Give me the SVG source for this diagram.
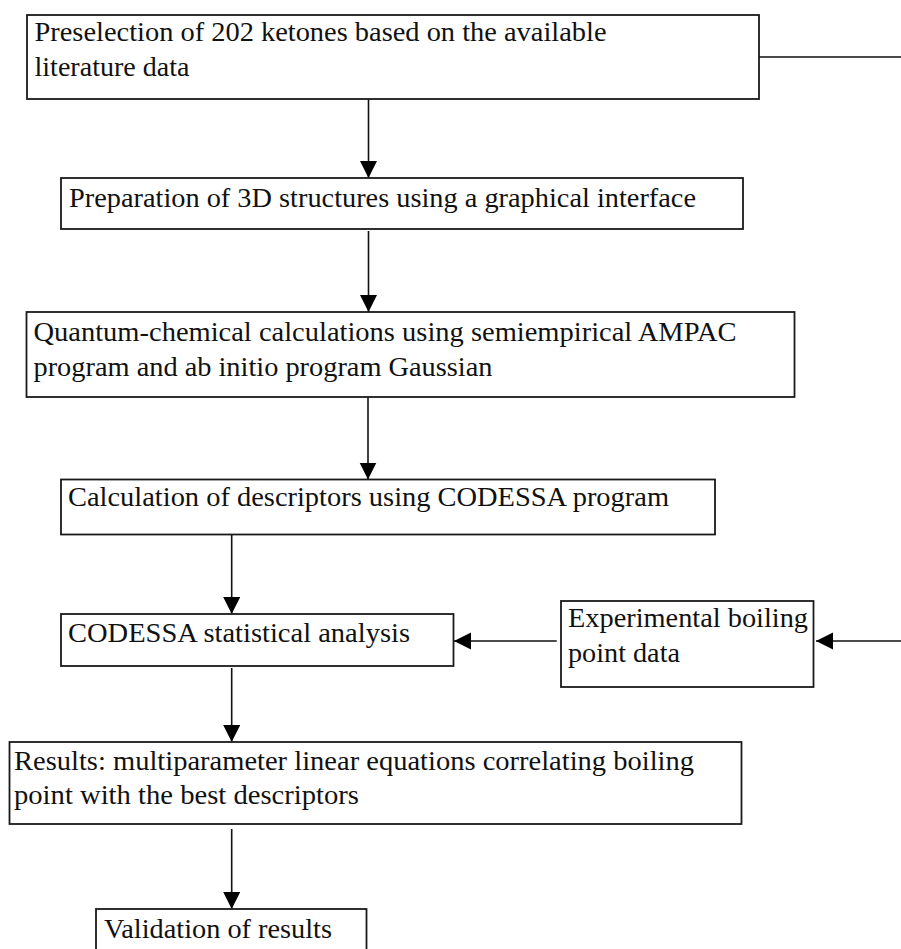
<svg xmlns="http://www.w3.org/2000/svg" width="901" height="949" viewBox="0 0 901 949">
<style>
.box{fill:#fff;stroke:#1a1a1a;stroke-width:1.8}
.t{font-family:"Liberation Serif","Times New Roman",serif;font-size:28px;fill:#111}
.c{fill:none;stroke:#111;stroke-width:1.6}
</style>
<defs>
<marker id="ah" markerUnits="userSpaceOnUse" markerWidth="18" markerHeight="18" refX="17" refY="8.5" orient="auto">
<path d="M0,0 L17,8.5 L0,17 z" fill="#000"/>
</marker>
</defs>
<rect width="901" height="949" fill="#fff"/>
<g id="connectors">
<line class="c" x1="368.5" y1="99" x2="368.5" y2="178" marker-end="url(#ah)"/>
<line class="c" x1="368.5" y1="231" x2="368.5" y2="312" marker-end="url(#ah)"/>
<line class="c" x1="368" y1="397" x2="368" y2="479.5" marker-end="url(#ah)"/>
<line class="c" x1="231.7" y1="534" x2="231.7" y2="614" marker-end="url(#ah)"/>
<line class="c" x1="231.7" y1="668" x2="231.7" y2="742" marker-end="url(#ah)"/>
<line class="c" x1="231.7" y1="829" x2="231.7" y2="909" marker-end="url(#ah)"/>
<line class="c" x1="556.7" y1="641" x2="454" y2="641" marker-end="url(#ah)"/>
<path class="c" d="M759,57 H906 V641 H816" marker-end="url(#ah)"/>
</g>
<g id="n1">
<rect class="box" x="27" y="15" width="732" height="84"/>
<text class="t" x="34.5" y="41" textLength="572" lengthAdjust="spacingAndGlyphs">Preselection of 202 ketones based on the available</text>
<text class="t" x="34.5" y="75.5" textLength="155" lengthAdjust="spacingAndGlyphs">literature data</text>
</g>
<g id="n2">
<rect class="box" x="61" y="178" width="682" height="51"/>
<text class="t" x="69" y="206.5" textLength="627" lengthAdjust="spacingAndGlyphs">Preparation of 3D structures using a graphical interface</text>
</g>
<g id="n3">
<rect class="box" x="26.5" y="312" width="768" height="85"/>
<text class="t" x="33.5" y="341" textLength="703" lengthAdjust="spacingAndGlyphs">Quantum-chemical calculations using semiempirical AMPAC</text>
<text class="t" x="33.5" y="375.5" textLength="459" lengthAdjust="spacingAndGlyphs">program and ab initio program Gaussian</text>
</g>
<g id="n4">
<rect class="box" x="61" y="479.5" width="654" height="55"/>
<text class="t" x="68" y="506" textLength="601" lengthAdjust="spacingAndGlyphs">Calculation of descriptors using CODESSA program</text>
</g>
<g id="n5">
<rect class="box" x="61" y="614" width="392.5" height="52"/>
<text class="t" x="68" y="641.5" textLength="342" lengthAdjust="spacingAndGlyphs">CODESSA statistical analysis</text>
</g>
<g id="n6">
<rect class="box" x="561" y="601" width="252.5" height="86"/>
<text class="t" x="568" y="627" textLength="240" lengthAdjust="spacingAndGlyphs">Experimental boiling</text>
<text class="t" x="568" y="662" textLength="112" lengthAdjust="spacingAndGlyphs">point data</text>
</g>
<g id="n7">
<rect class="box" x="9.5" y="742" width="732" height="82"/>
<text class="t" x="14" y="769.5" textLength="680" lengthAdjust="spacingAndGlyphs">Results: multiparameter linear equations correlating boiling</text>
<text class="t" x="14" y="804" textLength="345" lengthAdjust="spacingAndGlyphs">point with the best descriptors</text>
</g>
<g id="n8">
<rect class="box" x="96" y="909" width="270.5" height="60"/>
<text class="t" x="104" y="938" textLength="228" lengthAdjust="spacingAndGlyphs">Validation of results</text>
</g>
</svg>
